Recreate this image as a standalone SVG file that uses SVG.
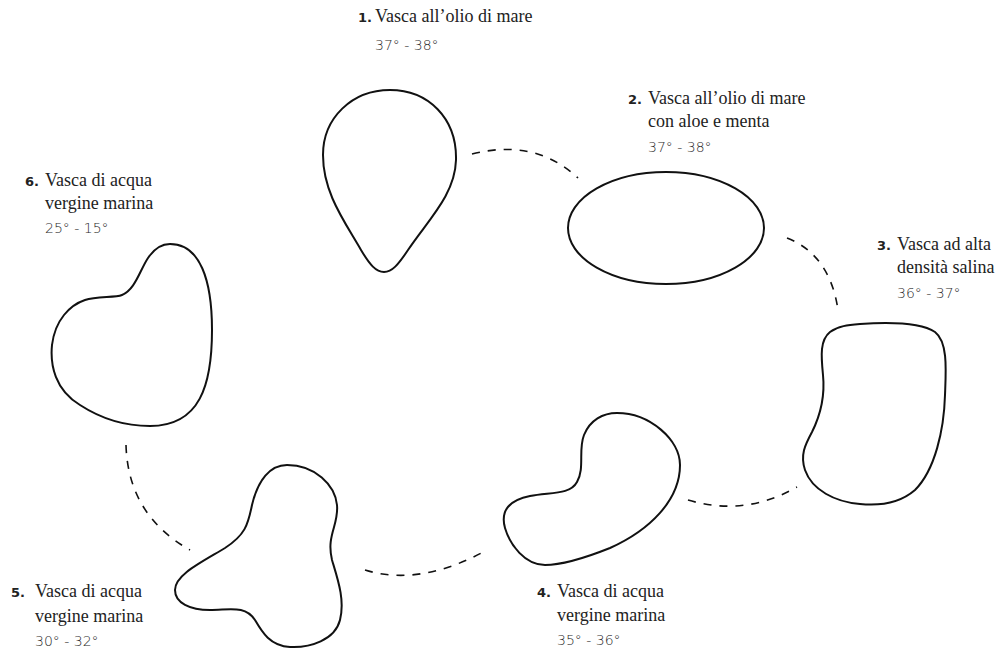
<svg xmlns="http://www.w3.org/2000/svg" width="1001" height="653" viewBox="0 0 1001 653">
<style>
.shape{fill:none;stroke:#111;stroke-width:2}
.conn{fill:none;stroke:#111;stroke-width:1.6;stroke-dasharray:8 8}
.num{font-family:"DejaVu Sans",sans-serif;font-weight:bold;font-size:13px;fill:#222}
.name{font-family:"Liberation Serif",serif;font-size:18px;fill:#222}
.temp{font-family:"DejaVu Sans ExtraLight","DejaVu Sans",sans-serif;font-weight:200;font-size:14px;fill:#2a2a2a}
</style>
<rect width="1001" height="653" fill="#fff"/>
<g id="connectors">
<path class="conn" d="M472,154 Q535,138 578,178"/>
<path class="conn" d="M787,238 Q830,255 838,310"/>
<path class="conn" d="M688,500 Q745,517 797,487"/>
<path class="conn" d="M365,570 Q420,587 487,550"/>
<path class="conn" d="M126,445 Q128,515 190,550"/>
</g>
<g id="node1">
<path class="shape" d="M390,90 C428,90 457,118 456,160 C455,195 428,220 408,250 C398,265 392,272 384,272 C376,272 370,265 361,250 C345,222 323,193 323,155 C323,118 352,90 390,90 Z"/>
<text class="num" x="358" y="22">1.</text>
<text class="name" x="375" y="22">Vasca all’olio di mare</text>
<text class="temp" x="375" y="50">37° - 38°</text>
</g>
<g id="node2">
<ellipse class="shape" cx="666" cy="228" rx="98" ry="56"/>
<text class="num" x="628" y="104">2.</text>
<text class="name" x="648" y="104">Vasca all’olio di mare</text>
<text class="name" x="648" y="127">con aloe e menta</text>
<text class="temp" x="648" y="152">37° - 38°</text>
</g>
<g id="node3">
<path class="shape" d="M860,324 C890,322 920,322 935,332 C948,342 946,370 945,395 C944,430 935,470 915,490 C900,503 880,506 860,504 C835,502 812,490 805,470 C800,455 805,445 812,432 C822,412 825,395 823,375 C821,355 820,340 830,332 C838,326 848,325 860,324 Z"/>
<text class="num" x="877" y="250">3.</text>
<text class="name" x="897" y="250">Vasca ad alta</text>
<text class="name" x="897" y="273">densità salina</text>
<text class="temp" x="897" y="298">36° - 37°</text>
</g>
<g id="node4">
<path class="shape" d="M617,413 C650,413 680,440 680,465 C680,500 650,530 610,548 C585,558 560,565 545,565 C525,565 510,545 505,528 C500,510 510,500 530,496 C550,492 570,495 577,482 C585,468 578,450 584,435 C590,420 603,413 617,413 Z"/>
<text class="num" x="537" y="597">4.</text>
<text class="name" x="557" y="597">Vasca di acqua</text>
<text class="name" x="557" y="621">vergine marina</text>
<text class="temp" x="557" y="645">35° - 36°</text>
</g>
<g id="node5">
<path class="shape" d="M287,465 C315,465 335,485 337,505 C339,525 326,535 332,560 C338,580 345,600 340,620 C335,640 310,648 290,647 C270,646 262,632 255,620 C245,605 230,610 210,610 C190,610 175,603 175,590 C175,575 200,563 225,548 C245,535 248,525 252,505 C258,480 270,465 287,465 Z"/>
<text class="num" x="11" y="597">5.</text>
<text class="name" x="35" y="597">Vasca di acqua</text>
<text class="name" x="35" y="622">vergine marina</text>
<text class="temp" x="35" y="646">30° - 32°</text>
</g>
<g id="node6">
<path class="shape" d="M122,295 C135,290 140,270 148,258 C156,246 165,244 170,244 C200,244 212,280 212,330 C212,385 200,426 150,426 C125,426 100,418 80,405 C55,390 50,365 52,345 C55,320 70,305 85,300 C97,296 115,298 122,295 Z"/>
<text class="num" x="25" y="186">6.</text>
<text class="name" x="45" y="186">Vasca di acqua</text>
<text class="name" x="45" y="209">vergine marina</text>
<text class="temp" x="45" y="233">25° - 15°</text>
</g>
</svg>
